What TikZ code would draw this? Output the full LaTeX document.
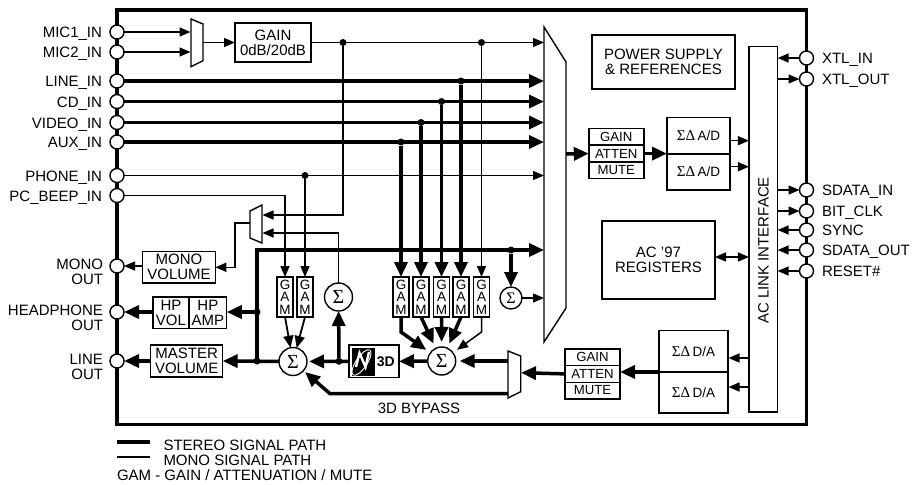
\documentclass[tikz,border=0pt]{standalone}
\usepackage{fontspec}
\setmainfont{Liberation Sans}
\newfontfamily\sigmaFont{Liberation Serif}
\usepackage{tikz}
\usetikzlibrary{
  arrows.meta
}
\newcommand{\chipFont}{\fontsize{15}{15}\selectfont}
\newcommand{\smallFont}{\fontsize{13.2}{13.2}\selectfont}
\newcommand{\adcText}{{\sigmaFont\fontsize{15}{15}\selectfont ΣΔ}\,{\fontsize{13.5}{13.5}\selectfont A/D}}
\newcommand{\dacText}{{\sigmaFont\fontsize{15}{15}\selectfont ΣΔ}\,{\fontsize{13.5}{13.5}\selectfont D/A}}

\begin{document}
\begin{tikzpicture}[
  x=1pt,
  y=-1pt,
  every node/.style={
    font=\chipFont,
    inner sep=0pt,
    outer sep=0pt,
  },
  chip border/.style={
    draw=black,
    line width=3.5pt,
  },
  pin circle/.style={
    draw=black,
    fill=white,
    circle,
    line width=1.4pt,
    minimum size=14pt,
  },
  left label/.style={
    anchor=east,
    text height=10.7pt,
    text depth=0pt,
  },
  out label/.style={
    anchor=east,
    align=right,
  },
  right label/.style={
    anchor=west,
    text height=10.7pt,
    text depth=0pt,
  },
  block box/.style={
    draw=black,
    line width=1.4pt,
    align=center,
  },
  stack box/.style={
    block box,
    font=\smallFont,
    minimum width=55pt,
    minimum height=16.6pt,
  },
  gam box/.style={
    block box,
    minimum width=16pt,
    minimum height=40pt,
    font=\fontsize{13.5}{12.7}\selectfont,
  },
  sum circle/.style={
    draw=black,
    fill=white,
    circle,
    line width=1.4pt,
    minimum size=28pt,
    font=\sigmaFont\fontsize{20}{20}\selectfont,
  },
  joint dot/.style={
    fill=black,
    circle,
    minimum size=7pt,
  },
  mux shape/.style={
    draw=black,
    fill=white,
    line width=1.4pt,
  },
  stereo path/.style={
    line width=3.5pt,
  },
  stereo arrow/.style={
    stereo path,
    -{Triangle[length=15pt,width=13pt]},
  },
  mono path/.style={
    line width=1.5pt,
  },
  mono arrow/.style={
    mono path,
    -{Triangle[length=11pt,width=9pt]},
  },
  gam arrow/.style={
    line width=1.8pt,
    -{Triangle[length=12pt,width=10pt]},
  },
]
\useasboundingbox (0,0) rectangle (914,485);
\draw[chip border] (117,10) rectangle (806.5,424.7);
\foreach \pinName/\pinText/\yPos in {
  micOne/MIC1\_IN/32, micTwo/MIC2\_IN/52, lineIn/LINE\_IN/81, cdIn/CD\_IN/101.5,
  videoIn/VIDEO\_IN/122.5, auxIn/AUX\_IN/142, phoneIn/PHONE\_IN/175.5,
  pcBeep/PC\_BEEP\_IN/195.5}{
  \node[pin circle] (\pinName) at (117,\yPos) {};
  \node[left label] (\pinName Text) at (102,\yPos+0.5) {\pinText};
}
\foreach \pinName/\pinText/\yPos/\yText in {
  monoOut/MONO/266/271.5, hpOut/HEADPHONE/312/318, lineOut/LINE/361/367}{
  \node[pin circle] (\pinName) at (117,\yPos) {};
  \node[out label] (\pinName Text) at (103,\yText) {\pinText\\OUT};
}
\foreach \pinName/\pinText/\yPos in {
  xtlIn/XTL\_IN/58, xtlOut/XTL\_OUT/79, sdataIn/SDATA\_IN/190, bitClk/BIT\_CLK/211,
  syncIn/SYNC/230, sdataOut/SDATA\_OUT/250, resetIn/RESET\#/271}{
  \node[pin circle] (\pinName) at (806.5,\yPos) {};
  \node[right label] (\pinName Text) at (822,\yPos+0.5) {\pinText};
}

\draw[mux shape] (191,19) -- (203,24) -- (203,60.7) -- (191,66.7) -- cycle;
\draw[mux shape] (544,27) -- (566,62) -- (566,308) -- (544,342) -- cycle;
\draw[mux shape] (250,211) -- (262,205) -- (262,243) -- (250,238) -- cycle;
\draw[mux shape] (508,351) -- (520.7,356) -- (520.7,391.7) -- (508,398) -- cycle;
\coordinate (micMuxIn) at (190.5,42.5);
\coordinate (micMuxOut) at (203,42.5);
\coordinate (bigMuxIn) at (544,42.5);
\coordinate (bigMuxOut) at (566,154);
\coordinate (beepMuxTop) at (262.5,215);
\coordinate (beepMuxLow) at (262.5,233);
\coordinate (beepMuxOut) at (250,223);
\coordinate (dacMuxIn) at (521,372.7);
\coordinate (dacMuxTop) at (508,361);
\coordinate (dacMuxLow) at (508,393.7);
\coordinate (bypassBend) at (330,393.7);

\node[block box,minimum width=76pt,minimum height=39pt] (micGain) at (273,42.5) {GAIN\\0dB/20dB};
\node[block box,minimum width=143pt,minimum height=54pt] (powerBox) at (663.5,62) {POWER SUPPLY\\\& REFERENCES};
\node[block box,minimum width=113pt,minimum height=78pt] (regsBox) at (658.5,260) {AC '97\\REGISTERS};
\node[block box,minimum width=28.7pt,minimum height=365.3pt] (acLink) at (763.3,229.4) {};
\node[rotate=90] (acLinkText) at (763.5,250.5) {AC LINK INTERFACE};
\node[stack box] (adcGain) at (616.3,136.8) {GAIN};
\node[stack box] (adcAtten) at (616.3,153.6) {ATTEN};
\node[stack box] (adcMute) at (616.3,170.4) {MUTE};
\node[block box,minimum width=63pt,minimum height=36.3pt] (adcOne) at (698.5,135.9) {\adcText};
\node[block box,minimum width=63pt,minimum height=36pt] (adcTwo) at (698.5,172) {\adcText};
\node[stack box] (dacGain) at (592.5,357.3) {GAIN};
\node[stack box] (dacAtten) at (592.5,373.9) {ATTEN};
\node[stack box] (dacMute) at (592.5,390.5) {MUTE};
\node[block box,minimum width=69pt,minimum height=41.3pt] (dacOne) at (693.5,351.3) {\dacText};
\node[block box,minimum width=69pt,minimum height=41pt] (dacTwo) at (693.5,392.5) {\dacText};
\node[block box,minimum width=72.6pt,minimum height=31.3pt] (monoVolume) at (179,267.3) {MONO\\VOLUME};
\node[block box,minimum width=36pt,minimum height=31.7pt] (hpVol) at (171,312.8) {HP\\VOL};
\node[block box,minimum width=37.7pt,minimum height=31.7pt] (hpAmp) at (207.9,312.8) {HP\\AMP};
\node[block box,minimum width=72pt,minimum height=32pt] (masterVolume) at (186.7,361) {MASTER\\VOLUME};
\node[block box,minimum width=50pt,minimum height=32.7pt] (threeD) at (374,361.3) {};
\node[anchor=center,font=\bfseries\fontsize{14}{14}\selectfont] (threeDText) at (385.8,361.5) {3D};
\fill[black] (352,347.5) rectangle (375,375.5);
\draw[white,line width=0.9pt,rotate around={56:(361.5,362.5)}] (361.5,362.5) ellipse (15 and 5.5);
\draw[white,line width=2.4pt] (356,367) -- (359.5,353) -- (365.5,367) -- (369,352);

\foreach \gamName/\xPos in {gamPcBeep/285,gamPhone/305,gamAux/401,gamVideo/421,gamCd/441.5,gamLine/461,gamMic/481.5}{
  \node[gam box] (\gamName) at (\xPos,297) {G\\A\\M};
}
\node[sum circle] (sumOut) at (293,361.5) {Σ};
\node[sum circle] (sumMono) at (338.5,297) {Σ};
\node[sum circle] (sumMain) at (441.7,361) {Σ};
\node[sum circle,minimum size=22pt,font=\sigmaFont\fontsize{16}{16}\selectfont] (sumSmall) at (511,298) {Σ};

\node[joint dot] (micJointA) at (343,42.5) {};
\node[joint dot] (micJointB) at (481.5,42.5) {};
\node[joint dot] (lineJoint) at (461,81) {};
\node[joint dot] (cdJoint) at (441.5,101.5) {};
\node[joint dot] (videoJoint) at (421,122.5) {};
\node[joint dot] (auxJoint) at (401,142) {};
\node[joint dot] (phoneJoint) at (305,175.5) {};
\node[joint dot] (busJoint) at (511,250) {};
\node[joint dot] (hpJoint) at (257,312) {};
\node[joint dot] (masterJoint) at (257,361) {};
\node[joint dot] (threeDJoint) at (339,361.3) {};

\draw[mono arrow] (micOne) -- (micOne -| micMuxIn);
\draw[mono arrow] (micTwo) -- (micTwo -| micMuxIn);
\draw[mono arrow] (micMuxOut) -- (micGain.west);
\draw[mono arrow] (micGain.east) -- (micGain.east -| bigMuxIn);
\foreach \pinName in {lineIn,cdIn,videoIn,auxIn}{
  \draw[stereo arrow] (\pinName) -- (\pinName -| bigMuxIn);
}
\draw[mono arrow] (phoneIn) -- (phoneIn -| bigMuxIn);
\draw[mono arrow] (pcBeep) -| (gamPcBeep.north);
\draw[mono arrow] (phoneJoint) -- (gamPhone.north);
\draw[mono arrow] (micJointA) |- (beepMuxTop);
\draw[mono arrow] (sumMono) |- (beepMuxLow);
\draw[mono arrow] (beepMuxOut) -- ++(-15,0) |- (monoVolume.east);
\draw[mono arrow] (monoVolume.west |- monoOut) -- (monoOut);
\draw[mono arrow] (micJointB) -- (gamMic.north);
\draw[stereo arrow] (auxJoint) -- (gamAux.north);
\draw[stereo arrow] (videoJoint) -- (gamVideo.north);
\draw[stereo arrow] (cdJoint) -- (gamCd.north);
\draw[stereo arrow] (lineJoint) -- (gamLine.north);
\draw[stereo arrow] (masterJoint) |- (busJoint -| bigMuxIn);
\draw[stereo arrow] (busJoint) -- (sumSmall);
\draw[mono arrow] (sumSmall) -- (sumSmall -| bigMuxIn);
\draw[stereo arrow] (hpJoint) -- (hpAmp.east |- hpJoint);
\draw[stereo arrow] (hpVol.west |- hpOut) -- (hpOut);
\draw[stereo arrow] (sumOut) -- (masterVolume.east);
\draw[stereo arrow] (masterVolume.west |- lineOut) -- (lineOut);
\draw[gam arrow] (gamPcBeep.south) -- (sumOut);
\draw[gam arrow] (gamPhone.south) -- (sumOut);
\draw[stereo arrow,shorten >=2pt] (threeD.west) -- (sumOut);
\draw[stereo arrow] (threeDJoint) -- (sumMono);
\draw[stereo arrow] (sumMain) -- (threeD.east);
\draw[stereo arrow,shorten >=5pt] (gamAux.south) -- ++(0,15) -- (sumMain);
\draw[stereo arrow,shorten >=5pt] (gamVideo.south) -- (sumMain);
\draw[stereo arrow,shorten >=5pt] (gamCd.south) -- (sumMain);
\draw[stereo arrow,shorten >=5pt] (gamLine.south) -- (sumMain);
\draw[mono arrow,shorten >=5pt] (gamMic.south) -- ++(0,15) -- (sumMain);
\draw[stereo arrow,shorten >=4pt] (dacMuxTop) -- (sumMain);
\draw[stereo arrow,shorten >=2pt] (dacMuxLow) -- (bypassBend) -- (sumOut);
\draw[stereo arrow] (dacAtten.west) -- (dacMuxIn);
\draw[stereo arrow] (dacOne.south west) -- (dacAtten.east |- dacOne.south west);
\draw[stereo arrow] (bigMuxOut) -- (adcAtten.west);
\draw[stereo arrow] (adcAtten.east) -- (adcOne.south west |- adcAtten.east);

\coordinate (adcOneOut) at (730,140.7);
\coordinate (adcTwoOut) at (730,166.7);
\coordinate (dacOneIn) at (728.5,358);
\coordinate (dacTwoIn) at (728.5,387);
\draw[mono arrow] (adcOneOut) -- (adcOneOut -| acLink.west);
\draw[mono arrow] (adcTwoOut) -- (adcTwoOut -| acLink.west);
\draw[mono arrow] (dacOneIn -| acLink.west) -- (dacOneIn);
\draw[mono arrow] (dacTwoIn -| acLink.west) -- (dacTwoIn);
\draw[mono path,{Triangle[length=11pt,width=9pt]}-{Triangle[length=11pt,width=9pt]}] ([yshift=3pt]regsBox.east) -- ([yshift=3pt]regsBox.east -| acLink.west);
\draw[mono arrow] (xtlIn) -- (xtlIn -| acLink.east);
\draw[mono arrow] (xtlOut -| acLink.east) -- (xtlOut);
\draw[mono arrow] (sdataIn -| acLink.east) -- (sdataIn);
\draw[mono arrow] (bitClk -| acLink.east) -- (bitClk);
\draw[mono arrow] (syncIn) -- (syncIn -| acLink.east);
\draw[mono arrow] (sdataOut) -- (sdataOut -| acLink.east);
\draw[mono arrow] (resetIn) -- (resetIn -| acLink.east);

\node (bypassText) at (419,408.7) {3D BYPASS};
\coordinate (stereoKeyA) at (117,442);
\coordinate (stereoKeyB) at (150,442);
\coordinate (monoKeyA) at (117,457);
\coordinate (monoKeyB) at (150,457);
\draw[stereo path] (stereoKeyA) -- (stereoKeyB);
\draw[mono path] (monoKeyA) -- (monoKeyB);
\node[anchor=west] (stereoKeyText) at (163.5,445) {STEREO SIGNAL PATH};
\node[anchor=west] (monoKeyText) at (163.5,460) {MONO SIGNAL PATH};
\node[anchor=west] (gamKeyText) at (117,475) {GAM - GAIN / ATTENUATION / MUTE};
\end{tikzpicture}
\end{document}
